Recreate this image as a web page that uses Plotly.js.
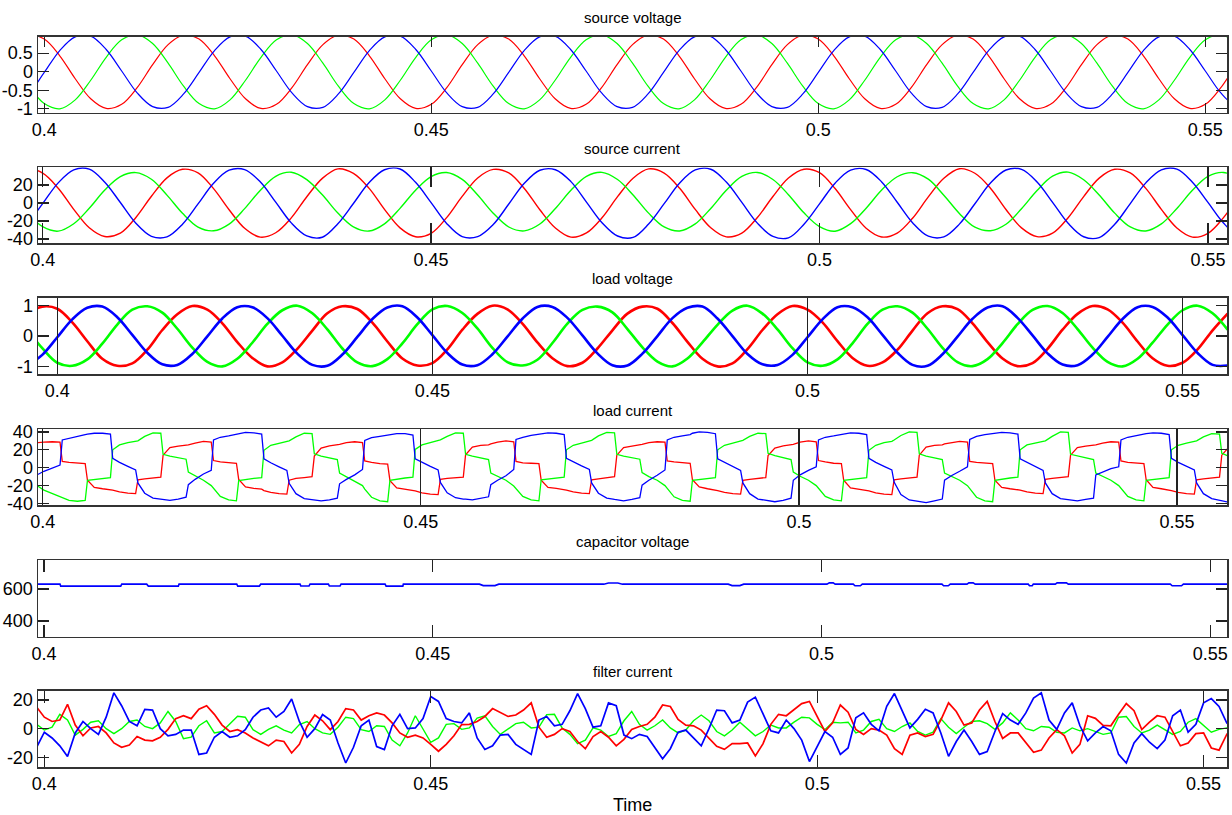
<!DOCTYPE html>
<html><head><meta charset="utf-8">
<script src="https://cdn.plot.ly/plotly-3.0.1.min.js"></script>
<style>html,body{margin:0;padding:0;background:#fff}#chart{width:1232px;height:815px}</style>
</head><body><div id="chart"></div>
<script>
// ---------- sample grids (time, s) ----------
const gridStartA = 0.396, gridStepA = 0.002, gridCountA = 81;   // source V, source I, load V
const gridStartF = 0.399, gridStepF = 0.001, gridCountF = 156;  // filter current
const lcEventStart = 0.40229, lcEventStep = 1/300;              // load current commutation instants
const lcOffsets = [0, 0.0003, 0.0012, 0.0023];

// ---------- source voltage (pu) ----------
const srcV_red = [0.73,0.99,0.88,0.43,-0.19,-0.73,-0.99,-0.88,-0.43,0.19, 0.73,0.99,0.88,0.43,-0.19,-0.73,-0.99,-0.88,-0.43,0.19, 0.73,0.99,0.88,0.43,-0.19,-0.73,-0.99,-0.88,-0.43,0.19, 0.73,0.99,0.88,0.43,-0.19,-0.73,-0.99,-0.88,-0.43,0.19, 0.73,0.99,0.88,0.43,-0.19,-0.73,-0.99,-0.88,-0.43,0.19, 0.73,0.99,0.88,0.43,-0.19,-0.73,-0.99,-0.88,-0.43,0.19, 0.73,0.99,0.88,0.43,-0.19,-0.73,-0.99,-0.88,-0.43,0.19, 0.73,0.99,0.88,0.43,-0.19,-0.73,-0.99,-0.88,-0.43,0.19, 0.73];
const srcV_blue = [-0.96,-0.60,-0.02,0.57,0.94,0.96,0.60,0.02,-0.57,-0.94, -0.96,-0.60,-0.02,0.57,0.94,0.96,0.60,0.02,-0.57,-0.94, -0.96,-0.60,-0.02,0.57,0.94,0.96,0.60,0.02,-0.57,-0.94, -0.96,-0.60,-0.02,0.57,0.94,0.96,0.60,0.02,-0.57,-0.94, -0.96,-0.60,-0.02,0.57,0.94,0.96,0.60,0.02,-0.57,-0.94, -0.96,-0.60,-0.02,0.57,0.94,0.96,0.60,0.02,-0.57,-0.94, -0.96,-0.60,-0.02,0.57,0.94,0.96,0.60,0.02,-0.57,-0.94, -0.96,-0.60,-0.02,0.57,0.94,0.96,0.60,0.02,-0.57,-0.94, -0.96];
const srcV_green = [0.23,-0.39,-0.86,-1.00,-0.76,-0.23,0.39,0.86,1.00,0.76, 0.23,-0.39,-0.86,-1.00,-0.76,-0.23,0.39,0.86,1.00,0.76, 0.23,-0.39,-0.86,-1.00,-0.76,-0.23,0.39,0.86,1.00,0.76, 0.23,-0.39,-0.86,-1.00,-0.76,-0.23,0.39,0.86,1.00,0.76, 0.23,-0.39,-0.86,-1.00,-0.76,-0.23,0.39,0.86,1.00,0.76, 0.23,-0.39,-0.86,-1.00,-0.76,-0.23,0.39,0.86,1.00,0.76, 0.23,-0.39,-0.86,-1.00,-0.76,-0.23,0.39,0.86,1.00,0.76, 0.23,-0.39,-0.86,-1.00,-0.76,-0.23,0.39,0.86,1.00,0.76, 0.23];

// ---------- source current (A) ----------
const srcI_red = [27.5,37.8,33.2,16.5,-7.0,-27.5,-37.2,-33.5,-16.0,7.5, 28.0,37.5,33.6,16.0,-7.4,-28.0,-37.8,-33.0,-16.5,7.0, 27.4,38.0,33.0,16.6,-7.0,-27.6,-37.4,-33.6,-16.2,7.4, 27.9,37.4,33.5,16.2,-7.5,-27.8,-37.9,-33.2,-16.4,7.1, 27.6,37.9,33.3,16.4,-7.1,-27.4,-37.5,-33.4,-16.1,7.3, 27.8,37.6,33.7,16.1,-7.3,-27.9,-37.7,-33.3,-16.6,6.9, 27.5,38.1,33.1,16.5,-7.2,-27.6,-37.3,-33.5,-16.3,7.2, 27.7,37.5,33.4,16.3,-7.0,-27.7,-37.8,-33.6,-16.2,7.4, 27.6];
const srcI_blue = [-37.0,-23.2,-0.6,22.4,36.9,37.6,23.2,0.6,-22.4,-36.9, -37.6,-23.6,-1.0,22.0,36.5,37.2,23.6,1.0,-22.0,-36.5, -38.0,-23.0,-0.5,22.5,37.0,37.8,23.0,0.5,-22.6,-37.2, -37.2,-23.8,-1.1,21.9,36.4,37.0,23.8,1.1,-21.8,-36.6, -38.2,-23.3,-0.7,22.3,36.8,37.5,23.3,0.7,-22.3,-37.0, -38.6,-23.5,-0.9,22.1,36.6,37.3,23.5,0.9,-22.1,-36.8, -37.5,-23.4,-0.8,22.2,36.7,37.4,23.4,0.8,-22.5,-37.4, -38.4,-23.6,-0.6,22.4,36.9,37.6,23.1,0.7,-22.2,-36.7, -37.4];
const srcI_green = [9.2,-11.0,-26.3,-31.2,-23.0,-5.8,14.4,29.3,33.8,26.4, 8.8,-11.4,-26.7,-30.8,-23.4,-6.2,14.0,29.7,34.2,26.0, 9.1,-11.1,-26.4,-31.1,-23.1,-5.9,14.3,29.4,33.9,26.3, 8.9,-11.3,-26.6,-30.9,-23.3,-6.1,14.1,29.6,34.1,26.1, 9.0,-11.2,-26.5,-31.0,-23.2,-6.0,14.2,29.5,34.0,26.2, 9.3,-10.9,-26.2,-31.3,-22.9,-5.7,14.5,29.2,33.7,26.5, 8.7,-11.5,-26.8,-30.7,-23.5,-6.3,13.9,29.8,34.3,25.9, 9.0,-11.2,-26.5,-31.0,-23.2,-6.0,14.2,29.5,34.0,26.2, 9.0];

// ---------- load voltage (pu) ----------
const loadV_red = [0.74,0.97,0.9,0.45,-0.17,-0.75,-0.98,-0.9,-0.45,0.2, 0.72,0.99,0.87,0.42,-0.2,-0.72,-1.0,-0.87,-0.42,0.18, 0.75,0.98,0.89,0.44,-0.18,-0.74,-0.97,-0.89,-0.44,0.21, 0.73,1.0,0.88,0.41,-0.21,-0.73,-0.99,-0.88,-0.41,0.19, 0.74,0.97,0.9,0.43,-0.19,-0.75,-1.0,-0.9,-0.43,0.2, 0.72,0.99,0.87,0.45,-0.17,-0.72,-0.98,-0.87,-0.45,0.18, 0.75,0.98,0.89,0.42,-0.2,-0.74,-0.99,-0.89,-0.42,0.21, 0.73,0.99,0.88,0.44,-0.18,-0.73,-0.98,-0.88,-0.44,0.19, 0.74];
const loadV_blue = [-0.97,-0.62,-0.04,0.55,0.93,0.97,0.62,0.04,-0.55,-0.93, -0.95,-0.59,-0.01,0.58,0.95,0.95,0.59,0.01,-0.58,-0.95, -0.98,-0.61,-0.03,0.56,0.94,0.98,0.61,0.03,-0.56,-0.94, -0.96,-0.6,-0.02,0.57,0.96,0.96,0.6,0.02,-0.57,-0.96, -0.97,-0.58,0.0,0.59,0.93,0.97,0.58,0.0,-0.59,-0.93, -0.95,-0.62,-0.04,0.55,0.95,0.95,0.62,0.04,-0.55,-0.95, -0.98,-0.6,-0.02,0.57,0.94,0.98,0.6,0.02,-0.57,-0.94, -0.96,-0.61,-0.03,0.56,0.95,0.96,0.61,0.03,-0.56,-0.95, -0.97];
const loadV_green = [0.21,-0.4,-0.88,-0.98,-0.77,-0.25,0.38,0.87,0.98,0.77, 0.24,-0.38,-0.85,-1.0,-0.75,-0.22,0.4,0.85,1.0,0.75, 0.22,-0.41,-0.87,-0.99,-0.76,-0.24,0.39,0.88,0.99,0.76, 0.25,-0.39,-0.86,-0.97,-0.78,-0.23,0.41,0.86,0.97,0.78, 0.23,-0.37,-0.84,-1.0,-0.74,-0.21,0.37,0.84,1.0,0.74, 0.22,-0.4,-0.87,-0.98,-0.77,-0.24,0.4,0.87,0.98,0.77, 0.24,-0.39,-0.86,-0.99,-0.76,-0.23,0.39,0.86,0.99,0.76, 0.23,-0.38,-0.85,-1.0,-0.75,-0.22,0.38,0.85,1.0,0.75, 0.21];

// ---------- load current (A), 4 samples per commutation interval ----------
const loadI_red = [27,28,28.5,29,
 28.5,7,6,5, 4.5,-14,-22,-23.5, -24.5,-25,-27,-28.5, -29,-13.5,-12.5,-11.5, -10.5,14,22.5,24, 25,25.5,27.5,29.5,
 28.5,8,6.5,5.5, 5,-13,-21.5,-23, -24,-25.5,-27.5,-29, -29.5,-14,-12,-11, -10,13,22,24.5, 25.5,26,28,29,
 28,7.5,6,4.5, 4,-14.5,-22.5,-24, -25,-26,-28,-29.5, -30,-13,-12,-11.5, -10.5,14.5,23,25, 25.5,26.5,28.5,30,
 29,7,5.5,5, 4.5,-14,-22,-23, -24,-25,-27,-28.5, -29,-13.5,-12.5,-11, -10,14,22.5,24, 25,26,28,29,
 28.5,7.5,6.5,5.5, 5,-13.5,-21.5,-23.5, -24.5,-25.5,-27.5,-29, -29.5,-14,-13,-12, -11,13.5,22,24.5, 25.5,26,28.5,30,
 29,8,6.5,5, 4.5,-14,-22.5,-24, -25,-26,-28,-29.5, -30,-13.5,-12.5,-11.5, -10.5,14,23,25, 25.5,26.5,28,29.5,
 28.5,7,6,5, 4.5,-14,-22,-23.5, -24.5,-25,-27,-28.5, -29,-13,-12,-11, -10,14,22.5,24, 25,25.5,27.5,29,
 28.5,7.5,6,5, 4.5,-13.5,-22,-23.5, -24.5,-25.5,-27.5,-29, -29.5,-13.5,-12.5,-11.5, -10.5,14,22.5,24.5, 25,26,28,29];
const loadI_blue = [-10,-8,-4,0,
 3,31,33,35, 37,37.5,38.5,38.5, 37.5,10.5,6,1.5, -2.5,-17,-28.5,-34, -35.5,-35.5,-36.5,-35, -33,-19,-13,-7,
 -3,31,34,35.5, 37,38,39.5,39, 37.5,10,5.5,1, -3,-17.5,-29,-34.5, -36,-36,-37,-36, -34,-18,-13,-8,
 -2,30.5,33.5,35, 36.5,37,38,38, 36.5,10,6,1.5, -2.5,-16.5,-28,-33.5, -35,-35,-36,-34.5, -32.5,-19,-14,-9,
 -2,31.5,34,36, 37.5,38,39,38.5, 37,10.5,6.5,2, -2,-17,-28.5,-34, -35.5,-36,-37,-35.5, -33.5,-19.5,-14,-8.5,
 -2.5,31,34,35.5, 37,38.5,40,39.5, 38,10,6,1, -3,-17,-29,-35, -36.5,-37,-38,-36.5, -34,-14,-8,-3,
 1,31,34,35.5, 37,38,39,38.5, 37,10.5,6,1.5, -2.5,-16,-30,-36, -37.5,-38.5,-39,-37, -35,-14,-9,-4,
 1,31.5,35,37, 38,38.5,39.5,39, 37.5,10,6,1, -3,-17,-29,-34.5, -36,-36.5,-37,-35.5, -34,-8,-5,-1,
 1,31,34,36, 37.5,38,39,38.5, 37,10.5,6,1.5, -2.5,-17,-29,-34.5, -36,-37,-38.5,-38, -37,-20,-14,-9];
const loadI_green = [-17,-20,-25,-29,
 -33,-34,-36.5,-37.5, -36.5,-14,-13,-12, -11,20,25.5,28, 29.5,30,35,39, 38.5,15,13,11, 9.5,-5,-9,-14,
 -20,-23,-32,-36, -37,-14.5,-13,-12, -11,19.5,25,27.5, 29,30,34.5,38.5, 38,15.5,13,11, 9,-6,-10,-14.5,
 -20,-24,-33,-37, -38,-14,-12.5,-11.5, -10.5,20.5,25.5,28, 30,31,35,39, 38.5,15,13,10.5, 9,-6,-10,-14,
 -20.5,-23.5,-32,-36, -37,-13.5,-12.5,-11.5, -10.5,20,25,27.5, 29.5,30.5,35.5,39.5, 39,15,13,11, 9.5,-5.5,-10,-14,
 -20,-23,-32.5,-36.5, -37.5,-14,-13,-12, -11,20,25,27.5, 29.5,30.5,35,38.5, 38,16,13.5,11, 9,-5,-9.5,-14,
 -20,-23,-32,-36, -37,-14,-13,-12, -11,19.5,25,28, 29.5,31,36,40, 39.5,15.5,13,11, 9,-6,-10,-14,
 -20,-23.5,-33,-37, -38,-14,-12.5,-11.5, -10.5,20,25.5,28, 29.5,30,35,40, 39.5,15,13,11, 9,-6,-10,-14,
 -20,-23,-32,-36, -37,-14,-13,-12, -11,20,25,27.5, 29,30,34.5,38, 37.5,16,13,11, 9,-6,-10,-14];

// ---------- capacitor voltage (V) ----------
const capT = [0.3990,0.40206,0.40215,0.40987,0.41000,0.41321,0.41342,0.41728,0.41737,0.42479,0.42492,0.42770,0.42788,0.43293,0.43303,0.43409,0.43422,0.43658,0.43670,0.43808,0.43821,0.44387,0.44400,0.44615,0.44622,
  0.4560,0.4565,0.4580,0.4585,0.4720,0.4726,0.4738,0.4744,0.4880,0.4885,0.4895,0.4900,
  0.50070,0.50100,0.50150,0.50176,0.50408,0.50430,0.50500,0.50524,0.51549,0.51570,0.51630,0.51656,0.51871,0.51895,0.51950,0.51977,
  0.52659,0.52675,0.52710,0.52724,0.53007,0.53030,0.53150,0.53174,0.54486,0.54510,0.54630,0.54654,0.5525];
const capV = [630,630,618,618,630,630,618,618,630,630,618,618,630,630,619,619,630,630,619,619,630,630,618,618,630,
  630,621,621,630,630,637,637,630,630,621,621,630,
  630,638,638,630,630,620,620,630,630,620,620,630,630,638,638,630,
  630,620,620,630,630,638,638,630,630,620,620,630,630];

// ---------- filter current (A), 1 ms samples ----------
const filtI_red = [15,8,5,6,17,2.5,-5,0.5,1.5,-3, -10,-13,-11.5,-5.5,-8,-8.5,-6,-0.5,7,9, 7,13.5,16,10,2.5,-2,-0.7,-3,-6.5,-9.5, -12,-8,-9,-17,-11,1.5,9.5,5.5,-0.7,5, 14,13,6,9,11,9.5,4,-3,-6,-4.5,
  -6.5,-11,-15.8,-11,-5,2.8,3,5,8.5,14, 11,8.5,9.5,13,18,1,-6,-4,0,-2, -9,-14,-5.5,-2,-6,-12,-7.5,-0.5,1.5,3, 8,16.5,15.5,6.5,2.5,2,-1,-7,-12.3,-14.5, -10.5,-10.5,-10,-19,-10.5,3,10,9,13,17.5, 19,9,
  -2,4,16.5,11.5,-0.5,-4,0,-1,-4.5,-14, -18,-4.5,-3,-5.5,-4,6,18,12,2.5,4, 13,19,5,-6.8,-3,-3,-10,-16.5,-15,-6.5, -0.7,-5,-17,-11,9,7.2,2.3,2,10,17.5, 12.5,-0.7,4.5,9,8,-1.5,-12,-10,-3.5,-3, -13.5,-15,-4,3];
const filtI_green = [3,-1,1,10,6,-4.5,-0.5,4.5,5.5,0, -3.5,0,5,6,1.5,0,4,12,5,-7, -6,2,5.5,-3,-2,3,8.6,8,-0.7,-4, -0.5,2,-1,-3,2.8,5,0,-3,-4,1, 8,7,-0.7,-2,2,1.5,-8,-12,-3,9,
  -0.5,-9.5,-6.5,3,3.5,-0.5,0.5,7.4,9,1.5, -4,-0.5,3.5,4.5,0.5,1,9.8,10,0.5,-4, -10.5,-8,0.5,-1,-5.5,-3.5,5.5,12,3,-1, 2,6,0.5,-3,-1,5.5,9.5,5.5,-2,-5, -1,4.5,0,-5,-2,2.5,0.5,0.5,4.5,8, 7.5,3,
  -0.7,4.5,4,4.5,-3,-1,5,6.5,0,-2, 1.5,4,-2,-4.5,-2.5,7,1,-3.5,1,5, 5.5,3.5,-0.5,4,11,6,0,-1.5,1.5,1, -2.5,-3,0.5,-1.5,0,-2,-4,-3,8,8.5, 1.5,-3,-1,2.5,-1,-4,-2,4.5,7,2, -2.5,-0.5,0.5,0];
const filtI_blue = [-13,-2.5,-6.5,-12,-19.5,-3,5,0,-4,8, 25,16,5,2,13.5,13,0,-5,-4,-1, -1,-18,-17,-6,-2,-6,-5,-0.7,8,13, 14.5,8,12,20.7,5,-6,0,9.8,6,-10, -24,-13,2,6,-12.5,-14.6,2,10,0,0.5,
  7,22.5,19,7,5,4,11,-6.5,-14.5,-12, -4.5,-4,-11,-14.6,-18,6,8.5,2,3,12.5, 24.5,14,1,2,18,16,-4.5,-7,-4,-5.5, -13,-21,-14,-2.5,-1,-6.5,-12,0,13,12.5, 4,6,18.5,22,10,-1.5,-3,6,0,-8, -23,-12,
  -2,-6,-18,-13.5,7.5,11,3,-1.5,15.6,24.5, 12.5,0.5,6.5,13.5,11,-3,-19.3,-9,-1,-9, -18,-16,-2,10.5,6,3,11,21.4,25,6, -0.5,11,18,2,-8.5,-3,1.5,-1.5,-18,-24, -10,-3.5,-9.5,-14,-8,9,13,-2.5,3,18, 21,15.5,4,0];

// ---------- axis text ----------
const subplotTitles = ['source voltage','source current','load voltage','load current','capacitor voltage','filter current'];
const xTickVals = [0.4, 0.45, 0.5, 0.55];
const xTickText = ['0.4','0.45','0.5','0.55'];
const yTickSets = [
  {vals:[-1,-0.5,0,0.5], text:['-1','-0.5','0','0.5']},
  {vals:[-40,-20,0,20], text:['-40','-20','0','20']},
  {vals:[-1,0,1], text:['-1','0','1']},
  {vals:[-40,-20,0,20,40], text:['-40','-20','0','20','40']},
  {vals:[400,600], text:['400','600']},
  {vals:[-20,0,20], text:['-20','0','20']}
];
const xAxisTitle = 'Time';

// ---------- build grids ----------
function grid(start, step, n){ const g=[]; for(let i=0;i<n;i++) g.push(+(start+step*i).toFixed(4)); return g; }
const tA = grid(gridStartA, gridStepA, gridCountA);
const tF = grid(gridStartF, gridStepF, gridCountF);
const tL = [];
for (let k=-1;k<=47;k++){ const e = lcEventStart + k*lcEventStep; for (const o of lcOffsets) tL.push(+(e+o).toFixed(5)); }

// ---------- styling / layout ----------
const RED='#ff0000', GREEN='#00ff00', BLUE='#0000ff';
const W = 1232, H = 815;
const boxes = [[36.5,112.5],[167.3,243.3],[297.5,374],[429.3,505.3],[560.3,636.7],[690.7,767.3]];
const xRanges = [[0.39919,0.5528],[0.3994,0.55245],[0.39743,0.55592],[0.39938,0.55661],[0.39923,0.55215],[0.39918,0.55303]];
const yRanges = [[-1.1,0.95],[-44.7,39.7],[-1.25,1.27],[-42,42.9],[302,779],[-27,26.5]];
const xTickLens = [10,20,40,40,12,12];

function line(x,y,color,ax,width,shape){
  return {x:x,y:y,type:'scatter',mode:'lines',hoverinfo:'skip',showlegend:false,
    line:{color:color,width:width,shape:shape||'linear',smoothing:1},
    xaxis:'x'+(ax===1?'':ax), yaxis:'y'+(ax===1?'':ax)};
}
const traces = [
  line(tA,srcV_red,RED,1,1.2,'spline'), line(tA,srcV_green,GREEN,1,1.2,'spline'), line(tA,srcV_blue,BLUE,1,1.2,'spline'),
  line(tA,srcI_red,RED,2,1.4,'spline'), line(tA,srcI_green,GREEN,2,1.4,'spline'), line(tA,srcI_blue,BLUE,2,1.4,'spline'),
  line(tA,loadV_red,RED,3,2.6,'spline'), line(tA,loadV_green,GREEN,3,2.6,'spline'), line(tA,loadV_blue,BLUE,3,2.6,'spline'),
  line(tL,loadI_red,RED,4,1.3), line(tL,loadI_green,GREEN,4,1.3), line(tL,loadI_blue,BLUE,4,1.3),
  line(capT,capV,BLUE,5,1.6),
  line(tF,filtI_green,GREEN,6,1.4), line(tF,filtI_red,RED,6,1.7), line(tF,filtI_blue,BLUE,6,1.7)
];

const tickFont = {family:'"Liberation Sans Narrow","Arial Narrow","Liberation Sans",Arial,sans-serif', size:18, color:'#000'};
const titleFont = {family:'"Liberation Sans",Arial,sans-serif', size:15, color:'#000'};
const layout = {width:W,height:H,margin:{l:38,r:5,t:0,b:0},paper_bgcolor:'#fff',plot_bgcolor:'#fff',showlegend:false,annotations:[]};
for (let i=0;i<6;i++){
  const n = i+1, sfx = n===1?'':String(n);
  const dom = [1-boxes[i][1]/H, 1-boxes[i][0]/H];
  const common = {showline:true,linecolor:'#333',linewidth:1.5,mirror:'ticks',ticks:'inside',tickcolor:'#222',tickwidth:1.3,
    showgrid:false,zeroline:false,tickfont:tickFont,fixedrange:true};
  layout['xaxis'+sfx] = Object.assign({},common,{domain:[0,1],anchor:'y'+sfx,range:xRanges[i],tickmode:'array',
    tickvals:xTickVals,ticktext:xTickText,ticklen:xTickLens[i]});
  layout['yaxis'+sfx] = Object.assign({},common,{domain:dom,anchor:'x'+sfx,range:yRanges[i],tickmode:'array',
    tickvals:yTickSets[i].vals,ticktext:yTickSets[i].text,ticklen:11});
  layout.annotations.push({text:subplotTitles[i],xref:'paper',yref:'paper',x:0.5,y:1-(boxes[i][0]-19)/H,
    xanchor:'center',yanchor:'middle',showarrow:false,font:titleFont});
}
layout.annotations.push({text:xAxisTitle,xref:'paper',yref:'paper',x:0.5,y:1-805/H,xanchor:'center',yanchor:'middle',
  showarrow:false,font:tickFont});

Plotly.newPlot('chart',traces,layout,{displayModeBar:false,staticPlot:true});
</script></body></html>
